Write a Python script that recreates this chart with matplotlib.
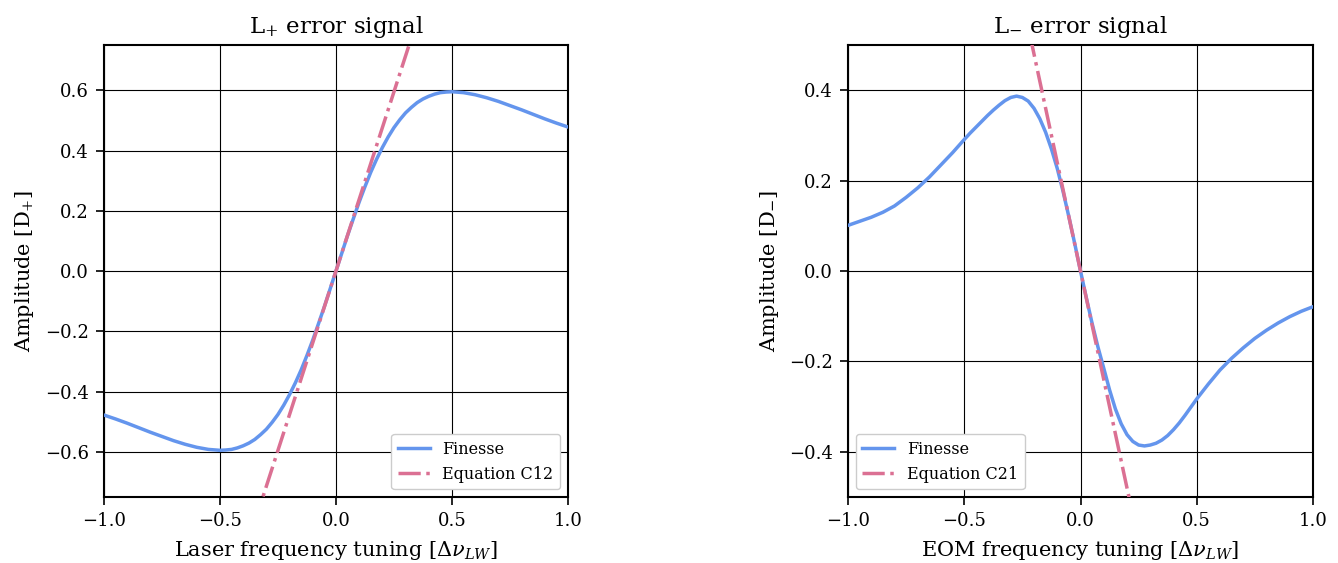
import matplotlib
matplotlib.use("Agg")
import matplotlib.pyplot as plt

plt.rcParams['font.family'] = ['DejaVu Serif']
plt.rcParams['mathtext.fontset'] = 'dejavuserif'

# ---------------- data ----------------
x_plus = [-1.00, -0.95, -0.90, -0.85, -0.80, -0.75, -0.70, -0.65, -0.60, -0.55,
          -0.500, -0.475, -0.450, -0.425, -0.400, -0.375, -0.350, -0.325, -0.300, -0.275,
          -0.250, -0.225, -0.200, -0.175, -0.150, -0.125, -0.100, -0.075, -0.050, -0.025,
          0.000, 0.025, 0.050, 0.075, 0.100, 0.125, 0.150, 0.175, 0.200, 0.225,
          0.250, 0.275, 0.300, 0.325, 0.350, 0.375, 0.400, 0.425, 0.450, 0.475,
          0.50, 0.55, 0.60, 0.65, 0.70, 0.75, 0.80, 0.85, 0.90, 0.95, 1.00]
finesse_plus = [-0.478, -0.491, -0.505, -0.520, -0.535, -0.549, -0.563, -0.575, -0.585, -0.592,
                -0.595, -0.594, -0.592, -0.587, -0.580, -0.571, -0.559, -0.543, -0.525, -0.502,
                -0.476, -0.445, -0.410, -0.371, -0.328, -0.280, -0.229, -0.174, -0.118, -0.059,
                0.000, 0.059, 0.118, 0.174, 0.229, 0.280, 0.328, 0.371, 0.410, 0.445,
                0.476, 0.502, 0.525, 0.543, 0.559, 0.571, 0.580, 0.587, 0.592, 0.594,
                0.595, 0.592, 0.585, 0.575, 0.563, 0.549, 0.535, 0.520, 0.505, 0.491, 0.478]
eq_plus_x = [-0.40, 0.40]
eq_plus_y = [-0.952, 0.952]

x_minus = [-1.00, -0.95, -0.90, -0.85, -0.80, -0.75, -0.70, -0.65, -0.60, -0.55,
           -0.500, -0.475, -0.450, -0.425, -0.400, -0.375, -0.350, -0.325, -0.300, -0.275,
           -0.250, -0.225, -0.200, -0.175, -0.150, -0.125, -0.100, -0.075, -0.050, -0.025,
           0.000, 0.025, 0.050, 0.075, 0.100, 0.125, 0.150, 0.175, 0.200, 0.225,
           0.250, 0.275, 0.300, 0.325, 0.350, 0.375, 0.400, 0.425, 0.450, 0.475,
           0.50, 0.55, 0.60, 0.65, 0.70, 0.75, 0.80, 0.85, 0.90, 0.95, 1.00]
finesse_minus = [0.101, 0.110, 0.119, 0.130, 0.144, 0.163, 0.184, 0.208, 0.235, 0.262,
                 0.291, 0.305, 0.318, 0.331, 0.344, 0.356, 0.367, 0.377, 0.384, 0.387,
                 0.384, 0.376, 0.360, 0.337, 0.307, 0.270, 0.227, 0.176, 0.120, 0.061,
                 0.000, -0.059, -0.116, -0.168, -0.215, -0.263, -0.305, -0.338, -0.362, -0.377,
                 -0.385, -0.387, -0.385, -0.381, -0.374, -0.364, -0.351, -0.336, -0.319, -0.301,
                 -0.283, -0.250, -0.219, -0.193, -0.170, -0.149, -0.131, -0.115, -0.101, -0.089, -0.079]
eq_minus_x = [-0.30, 0.30]
eq_minus_y = [0.720, -0.720]

titles = ["L$_{+}$ error signal", "L$_{-}$ error signal"]
xlabels = ["Laser frequency tuning [$\\Delta\\nu_{LW}$]", "EOM frequency tuning [$\\Delta\\nu_{LW}$]"]
ylabels = ["Amplitude [D$_{+}$]", "Amplitude [D$_{-}$]"]
eq_labels = ["Equation C12", "Equation C21"]

blue = "#6495ED"
pink = "#DB7093"

fig = plt.figure(figsize=(13.38, 5.63), dpi=100)
ax1 = fig.add_axes([0.0777, 0.1172, 0.3468, 0.8028])
ax2 = fig.add_axes([0.6338, 0.1172, 0.3475, 0.8028])

panels = [
    (ax1, x_plus, finesse_plus, eq_plus_x, eq_plus_y, (-0.75, 0.75), [-0.6, -0.4, -0.2, 0.0, 0.2, 0.4, 0.6], "lower right"),
    (ax2, x_minus, finesse_minus, eq_minus_x, eq_minus_y, (-0.5, 0.5), [-0.4, -0.2, 0.0, 0.2, 0.4], "lower left"),
]

for i, (ax, xs, ys, ex, ey, ylim, yt, loc) in enumerate(panels):
    ax.plot(xs, ys, color=blue, lw=2.5, label="Finesse", zorder=3)
    ax.plot(ex, ey, color=pink, lw=2.5, ls="-.", label=eq_labels[i], zorder=4)
    ax.set_xlim(-1, 1)
    ax.set_ylim(*ylim)
    ax.set_xticks([-1.0, -0.5, 0.0, 0.5, 1.0])
    ax.set_yticks(yt)
    ax.grid(True, color="black", lw=0.8)
    ax.set_axisbelow(True)
    for sp in ax.spines.values():
        sp.set_linewidth(1.5)
    ax.tick_params(labelsize=13, length=6, width=1.2, pad=5)
    ax.set_title(titles[i], fontsize=16.5, pad=9)
    ax.set_xlabel(xlabels[i], fontsize=15, labelpad=6)
    ax.set_ylabel(ylabels[i], fontsize=15, labelpad=6)
    ax.legend(loc=loc, fontsize=11.5, framealpha=1.0, edgecolor="#cccccc", fancybox=True)

fig.savefig("out.png", dpi=100)
